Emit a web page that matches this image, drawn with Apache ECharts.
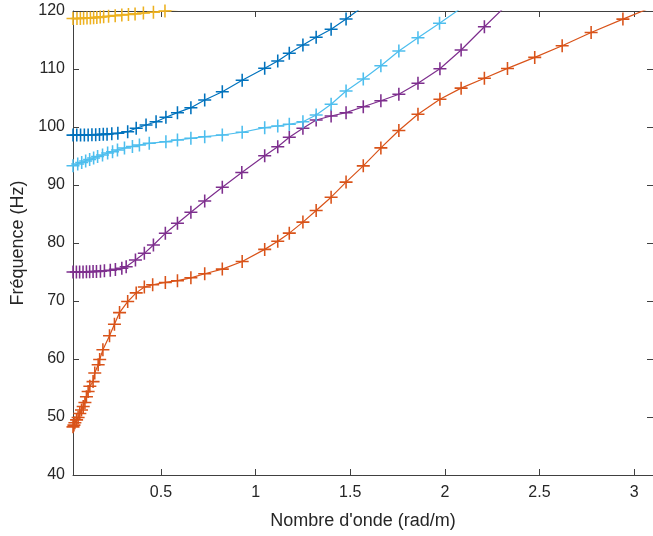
<!DOCTYPE html>
<html><head><meta charset="utf-8">
<script src="https://cdn.jsdelivr.net/npm/echarts@6/dist/echarts.min.js"></script>
<style>html,body{margin:0;padding:0;background:#fff}#c{width:653px;height:536px}</style>
</head><body><div id="c"></div>
<script>
// Tick labels
const xTicks = [0.5, 1, 1.5, 2, 2.5, 3];
const yTicks = [40, 50, 60, 70, 80, 90, 100, 110, 120];

// Mode 1 (blue)
const mode1 = [[0.035,98.6],[0.055,98.6],[0.075,98.6],[0.095,98.62],[0.115,98.64],[0.135,98.66],[0.155,98.68],[0.175,98.7],[0.195,98.73],[0.215,98.77],[0.24,98.84],[0.272,98.93],[0.324,99.19],[0.369,99.78],[0.421,100.34],[0.474,100.91],[0.526,101.67],[0.587,102.47],[0.658,103.33],[0.731,104.66],[0.824,106.09],[0.929,108.05],[1.048,110.12],[1.117,111.38],[1.178,112.71],[1.25,114.14],[1.32,115.47],[1.399,116.84],[1.478,118.62],[1.574,120.9]];
// Mode 2 (orange)
const mode2 = [[0.035,48.3],[0.040,48.6],[0.045,49.0],[0.054,49.5],[0.062,49.9],[0.071,50.6],[0.080,51.2],[0.089,51.8],[0.098,52.5],[0.106,53.5],[0.115,54.4],[0.124,55.3],[0.141,56.1],[0.150,57.6],[0.168,59.0],[0.176,59.9],[0.193,61.6],[0.228,64.0],[0.254,66.0],[0.281,68.0],[0.324,69.9],[0.369,71.4],[0.412,72.4],[0.456,72.8],[0.523,73.2],[0.587,73.5],[0.658,74.0],[0.731,74.7],[0.824,75.5],[0.929,76.8],[1.048,78.9],[1.117,80.3],[1.178,81.7],[1.25,83.6],[1.32,85.6],[1.399,87.9],[1.478,90.5],[1.569,93.3],[1.662,96.4],[1.757,99.4],[1.858,102.2],[1.974,104.8],[2.086,106.7],[2.209,108.4],[2.331,110.1],[2.475,112.0],[2.62,114.0],[2.773,116.3],[2.941,118.6],[3.09,120.6]];
// Mode 3 (yellow)
const mode3 = [[0.035,118.7],[0.056,118.7],[0.074,118.72],[0.091,118.75],[0.109,118.78],[0.127,118.8],[0.144,118.85],[0.161,118.9],[0.179,118.95],[0.197,119.0],[0.223,119.1],[0.258,119.2],[0.293,119.3],[0.328,119.4],[0.363,119.5],[0.407,119.65],[0.46,119.8],[0.521,120.0],[0.6,120.3]];
// Mode 4 (purple)
const mode4 = [[0.035,75.0],[0.053,75.0],[0.07,75.0],[0.088,75.02],[0.106,75.03],[0.123,75.05],[0.141,75.07],[0.159,75.1],[0.18,75.15],[0.201,75.2],[0.232,75.3],[0.259,75.45],[0.293,75.65],[0.316,75.91],[0.365,77.07],[0.412,78.22],[0.46,79.66],[0.523,81.67],[0.587,83.4],[0.658,85.29],[0.731,87.24],[0.824,89.6],[0.927,92.16],[1.048,95.05],[1.117,96.6],[1.178,98.22],[1.25,99.78],[1.32,101.21],[1.399,101.9],[1.478,102.47],[1.569,103.5],[1.662,104.53],[1.757,105.64],[1.858,107.53],[1.974,110.05],[2.086,113.28],[2.209,117.29],[2.342,121.5]];
// Mode 5 (cyan)
const mode5 = [[0.035,93.33],[0.06,93.62],[0.081,93.88],[0.102,94.14],[0.123,94.4],[0.144,94.66],[0.165,94.91],[0.191,95.17],[0.218,95.52],[0.244,95.74],[0.27,96.03],[0.307,96.38],[0.349,96.64],[0.386,96.9],[0.438,97.19],[0.526,97.47],[0.587,97.76],[0.658,98.05],[0.731,98.33],[0.824,98.62],[0.929,99.09],[1.048,99.88],[1.117,100.17],[1.178,100.47],[1.25,100.91],[1.32,102.07],[1.399,103.91],[1.478,106.21],[1.569,108.28],[1.662,110.57],[1.757,113.1],[1.858,115.4],[1.972,117.88],[2.095,120.7]];

const seriesList = [
  {data: mode1, color: '#0072BD'},
  {data: mode2, color: '#D95319'},
  {data: mode3, color: '#EDB120'},
  {data: mode4, color: '#7E2F8E'},
  {data: mode5, color: '#4DBEEE'}
];

const plus = 'path://M0,8.8h20v2.4h-20z M8.8,0h2.4v20h-2.4z';
const axisCol = '#404040';
const txtCol = '#262626';
const font = 'Liberation Sans, Arial, Helvetica, sans-serif';

const chart = echarts.init(document.getElementById('c'), null, {renderer: 'canvas'});
const xCommon = {
  type: 'value', min: 0.035, max: 3.1,
  axisLine: {show: true, lineStyle: {color: axisCol, width: 1}},
  splitLine: {show: false}
};
chart.setOption({
  animation: false,
  grid: {left: 73, right: -3, top: 11, bottom: 61, containLabel: false},
  xAxis: [
    Object.assign({}, xCommon, {
      position: 'bottom',
      name: "Nombre d'onde (rad/m)", nameLocation: 'middle', nameGap: 37,
      nameTextStyle: {fontFamily: font, fontSize: 18, color: txtCol},
      axisTick: {show: true, inside: true, length: 6, lineStyle: {color: axisCol}, customValues: xTicks},
      axisLabel: {show: true, customValues: xTicks, margin: 10, fontFamily: font, fontSize: 16, color: txtCol,
        formatter: v => String(+v.toFixed(2))}
    }),
    Object.assign({}, xCommon, {
      position: 'top',
      axisTick: {show: true, inside: true, length: 6, lineStyle: {color: axisCol}, customValues: xTicks},
      axisLabel: {show: false}
    })
  ],
  yAxis: [
    {
      type: 'value', min: 40, max: 120, interval: 10, position: 'left',
      name: 'Fréquence (Hz)', nameLocation: 'middle', nameGap: 46, nameRotate: 90,
      nameTextStyle: {fontFamily: font, fontSize: 18, color: txtCol},
      axisLine: {show: true, lineStyle: {color: axisCol, width: 1}},
      axisTick: {show: true, inside: true, length: 6, lineStyle: {color: axisCol}},
      axisLabel: {margin: 8, fontFamily: font, fontSize: 16, color: txtCol},
      splitLine: {show: false}
    },
    {
      type: 'value', min: 40, max: 120, interval: 10, position: 'right',
      axisLine: {show: true, lineStyle: {color: axisCol, width: 1}},
      axisTick: {show: true, inside: true, length: 6, lineStyle: {color: axisCol}},
      axisLabel: {show: false},
      splitLine: {show: false}
    }
  ],
  series: seriesList.map(s => ({
    type: 'line', data: s.data, xAxisIndex: 0, yAxisIndex: 0,
    symbol: plus, symbolSize: 13, showAllSymbol: true, clip: true,
    lineStyle: {color: s.color, width: 1.2},
    itemStyle: {color: s.color, borderWidth: 0},
    emphasis: {disabled: true}
  }))
});
</script></body></html>
